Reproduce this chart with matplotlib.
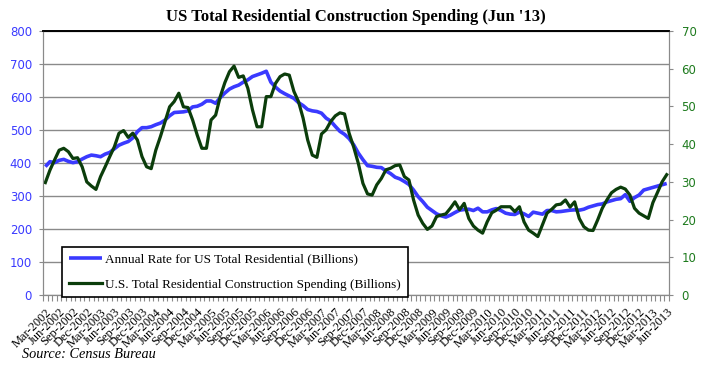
import numpy as np
import pandas as pd
from matplotlib import pyplot as plt
from matplotlib.ticker import FixedLocator

# monthly, Mar-2002 .. Jun-2013
months = pd.date_range("2002-03-01", "2013-06-01", freq="MS")
tick_labels = [d.strftime("%b-%Y") for d in months]

# annual rate, billions (left axis)
annual_rate = [389, 404, 401, 408, 411, 405, 401, 404, 412, 419,
               424, 422, 419, 427, 432, 443, 454, 460, 465, 476, 495, 507,
               507, 510, 516, 521, 530, 543, 553, 554, 555, 558, 570, 572,
               578, 588, 588, 581, 598, 612, 624, 631, 636, 645, 652, 662,
               667, 672, 678, 645, 630, 618, 610, 603, 596, 583, 574, 562,
               558, 556, 551, 536, 527, 511, 496, 487, 474, 455, 430, 410,
               392, 390, 387, 386, 376, 368, 357, 352, 344, 335, 318, 298,
               283, 266, 256, 246, 240, 236, 242, 250, 257, 259, 260, 256,
               263, 252, 252, 258, 262, 256, 248, 245, 244, 251, 246, 238,
               251, 248, 245, 256, 256, 252, 253, 255, 257, 258, 257, 260,
               266, 270, 274, 276, 282, 286, 290, 292, 304, 284, 295, 303,
               318, 322, 326, 330, 334, 338]

# monthly spending, billions (right axis)
monthly = [29.8, 33.1, 35.8, 38.4, 38.9, 38.0, 36.2, 36.4, 34.0, 30.0,
           28.9, 28.0, 31.4, 34.0, 36.7, 39.3, 42.9, 43.6, 41.8, 42.9, 41.1, 36.7,
           34.0, 33.5, 38.4, 42.0, 46.0, 49.9, 51.3, 53.5, 49.9, 49.7, 46.4, 42.4,
           38.9, 38.9, 46.4, 47.7, 52.6, 56.3, 59.2, 60.7, 57.7, 58.1, 54.8, 49.1,
           44.6, 44.6, 52.6, 52.6, 56.1, 57.9, 58.6, 58.3, 54.0, 51.3, 46.9, 41.1,
           37.1, 36.5, 42.7, 43.8, 46.0, 47.5, 48.3, 48.0, 42.9, 39.2, 34.9, 29.6,
           26.8, 26.5, 29.2, 30.9, 33.2, 33.6, 34.3, 34.5, 31.4, 30.5, 25.2, 21.2,
           19.0, 17.4, 18.3, 20.8, 21.2, 21.5, 23.0, 24.7, 22.6, 24.3, 20.3, 18.3,
           17.2, 16.4, 19.4, 21.8, 22.5, 23.4, 23.4, 23.4, 22.1, 23.4, 19.4, 17.2,
           16.4, 15.5, 18.6, 21.7, 22.7, 23.9, 24.1, 25.2, 23.3, 24.7, 20.3, 18.1,
           17.2, 17.1, 19.9, 23.0, 25.2, 27.1, 28.0, 28.6, 28.1, 26.5, 23.0, 21.7,
           21.0, 20.3, 24.5, 27.2, 30.0, 31.9]

x = np.arange(len(months))
serif = "Liberation Serif"
blue = "#3a3aff"
green = "#0b3d0b"
gray = "#8a8a8a"

fig = plt.figure(figsize=(7.02, 3.73), dpi=100)
ax1 = fig.add_axes([0.0613, 0.2091, 0.8917, 0.7078])
ax2 = ax1.twinx()

l1, = ax1.plot(x, annual_rate, color=blue, lw=2.6, solid_capstyle="butt",
               label="Annual Rate for US Total Residential (Billions)")
l2, = ax2.plot(x, monthly, color=green, lw=2.3,
               label="U.S. Total Residential Construction Spending (Billions)")

ax1.set_xlim(-0.5, len(x) - 0.5)
ax1.set_ylim(0, 800)
ax2.set_ylim(0, 70)
ax1.set_yticks(range(0, 801, 100))
ax2.set_yticks(range(0, 71, 10))

# grid from the left axis
ax1.yaxis.grid(True, color=gray, lw=1)
ax1.set_axisbelow(True)

# x ticks: labels every 3 months, small tick marks every month
ax1.set_xticks(x[::3])
ax1.set_xticklabels(tick_labels[::3], rotation=45, ha="right",
                    rotation_mode="anchor", fontsize=9, family=serif)
ax1.xaxis.set_minor_locator(FixedLocator(np.arange(-0.5, len(x), 1)))
ax1.tick_params(axis="x", which="major", length=0, pad=8)
ax1.tick_params(axis="x", which="minor", length=4, color=gray, width=0.8)

ax1.tick_params(axis="y", length=3, color=gray, labelcolor=blue, labelsize=8.5, pad=5)
ax2.tick_params(axis="y", length=3, color=gray, labelcolor="#1e7b1e", labelsize=8.5, pad=6)

for ax in (ax1, ax2):
    ax.spines["left"].set_color(gray)
    ax.spines["right"].set_color(gray)
    ax.spines["bottom"].set_color(gray)
    ax.spines["top"].set_color("black")
    ax.spines["top"].set_linewidth(1.2)

leg = ax2.legend(handles=[l1, l2], loc="lower left", bbox_to_anchor=(0.031, -0.008),
                 fancybox=False, edgecolor="black", framealpha=1,
                 prop={"family": serif, "size": 9.5}, handlelength=2.5,
                 borderpad=0.5, labelspacing=0.95, handletextpad=0.25,
                 borderaxespad=0)
leg.get_frame().set_linewidth(1.2)

fig.text(0.507, 0.955, "US Total Residential Construction Spending (Jun '13)",
         ha="center", va="center", fontsize=12, fontweight="bold", family=serif)
fig.text(0.031, 0.05, "Source: Census Bureau", ha="left", va="center",
         fontsize=10.3, style="italic", family=serif)

plt.savefig("out.png", dpi=100)
